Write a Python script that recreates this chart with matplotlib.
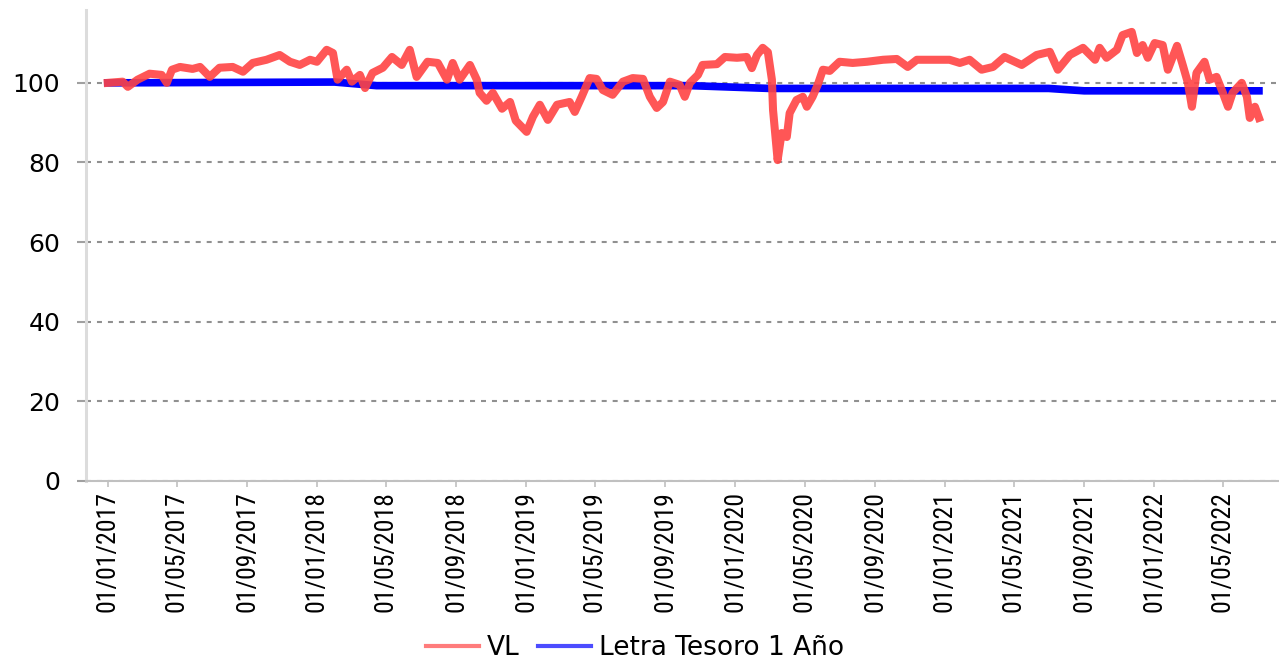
import matplotlib
matplotlib.use("Agg")
import matplotlib.pyplot as plt
import matplotlib.dates as mdates
from matplotlib import font_manager as fm
import pandas as pd

plt.rcParams['lines.scale_dashes'] = False
plt.rcParams['ytick.major.size'] = 6.5
plt.rcParams['ytick.major.pad'] = 12
plt.rcParams['ytick.major.width'] = 1.5
plt.rcParams['ytick.color'] = '#a0a0a0'
plt.rcParams['ytick.labelcolor'] = 'black'
plt.rcParams['xtick.major.size'] = 4.5
plt.rcParams['xtick.major.pad'] = 3
plt.rcParams['xtick.major.width'] = 1.2
plt.rcParams['xtick.color'] = '#c0c0c0'
plt.rcParams['xtick.labelcolor'] = 'black'

# ---- data ----
vl_dates = [
    "2017-01-01", "2017-01-27", "2017-02-05", "2017-02-22", "2017-03-15", "2017-04-05", "2017-04-14",
    "2017-04-23", "2017-05-07", "2017-05-29", "2017-06-11", "2017-06-28", "2017-07-15", "2017-08-07",
    "2017-08-25", "2017-09-11", "2017-10-05", "2017-10-28", "2017-11-15", "2017-12-02", "2017-12-20",
    "2018-01-01", "2018-01-18", "2018-01-29", "2018-02-06", "2018-02-22", "2018-03-03", "2018-03-17",
    "2018-03-26", "2018-04-08", "2018-04-26", "2018-05-12", "2018-05-29", "2018-06-12", "2018-06-24",
    "2018-07-13", "2018-07-31", "2018-08-16", "2018-08-26", "2018-09-07", "2018-09-25", "2018-10-07",
    "2018-10-12", "2018-10-24", "2018-11-04", "2018-11-20", "2018-12-04", "2018-12-14", "2019-01-02",
    "2019-01-13", "2019-01-25", "2019-02-08", "2019-02-24", "2019-03-18", "2019-03-27", "2019-04-08",
    "2019-04-22", "2019-05-04", "2019-05-15", "2019-06-01", "2019-06-19", "2019-07-06", "2019-07-24",
    "2019-08-05", "2019-08-17", "2019-08-28", "2019-09-09", "2019-09-26", "2019-10-05", "2019-10-14",
    "2019-10-28", "2019-11-05", "2019-11-30", "2019-12-14", "2020-01-04", "2020-01-21", "2020-01-30",
    "2020-02-08", "2020-02-18", "2020-02-27", "2020-03-05", "2020-03-07", "2020-03-15", "2020-03-22",
    "2020-03-31", "2020-04-05", "2020-04-17", "2020-04-28", "2020-05-05", "2020-05-15", "2020-05-24",
    "2020-06-02", "2020-06-14", "2020-07-01", "2020-07-24", "2020-08-18", "2020-09-15", "2020-10-09",
    "2020-10-28", "2020-11-13", "2021-01-09", "2021-01-27", "2021-02-13", "2021-03-06", "2021-03-26",
    "2021-04-15", "2021-05-15", "2021-06-10", "2021-07-03", "2021-07-17", "2021-08-07", "2021-08-30",
    "2021-09-20", "2021-09-28", "2021-10-10", "2021-10-28", "2021-11-07", "2021-11-23", "2021-12-02",
    "2021-12-12", "2021-12-21", "2022-01-02", "2022-01-16", "2022-01-25", "2022-02-10", "2022-02-20",
    "2022-03-01", "2022-03-08", "2022-03-16", "2022-03-30", "2022-04-08", "2022-04-20", "2022-05-01",
    "2022-05-10", "2022-05-18", "2022-06-03", "2022-06-12", "2022-06-17", "2022-06-26", "2022-07-03",
]
vl_values = [
    100.0, 100.3, 99.0, 100.8, 102.3, 102.0, 100.0,
    103.3, 104.0, 103.5, 104.0, 101.5, 103.8, 104.0,
    102.8, 105.0, 105.8, 107.0, 105.3, 104.5, 105.8,
    105.3, 108.3, 107.5, 100.8, 103.3, 100.3, 102.0,
    98.7, 102.5, 103.8, 106.5, 104.5, 108.3, 101.5,
    105.3, 105.0, 100.8, 105.0, 100.8, 104.5, 100.8,
    97.5, 95.5, 97.5, 93.5, 95.2, 90.5, 87.7,
    91.5, 94.5, 90.7, 94.5, 95.2, 92.7, 96.5,
    101.2, 101.0, 98.2, 97.0, 100.3, 101.2, 101.0,
    96.5, 93.7, 95.2, 100.3, 99.5, 96.5, 100.0,
    102.0, 104.5, 104.7, 106.5, 106.3, 106.5, 103.7,
    107.0, 108.8, 107.7, 100.8, 93.2, 80.6, 87.4,
    86.4, 92.4, 95.7, 96.5, 94.0, 96.5, 99.5,
    103.3, 103.0, 105.3, 105.0, 105.3, 105.8, 106.0,
    104.0, 105.8, 105.8, 105.0, 105.8, 103.3, 104.0,
    106.5, 104.5, 107.0, 107.8, 103.3, 107.0, 108.8,
    105.8, 108.8, 106.3, 108.3, 112.0, 112.8, 107.5,
    109.5, 106.3, 110.0, 109.5, 103.3, 109.3, 104.5,
    100.0, 94.0, 102.5, 105.3, 100.8, 101.5, 97.5,
    94.0, 97.5, 100.0, 96.5, 91.2, 94.0, 91.2,
]

letra_dates = ["2017-01-01", "2018-02-01", "2018-04-15", "2019-10-15",
               "2020-03-01", "2021-07-01", "2021-09-01", "2022-07-03"]
letra_values = [100.0, 100.2, 99.3, 99.3, 98.6, 98.6, 98.0, 98.0]

tick_dates = ["2017-01-01", "2017-05-01", "2017-09-01", "2018-01-01", "2018-05-01",
              "2018-09-01", "2019-01-01", "2019-05-01", "2019-09-01", "2020-01-01",
              "2020-05-01", "2020-09-01", "2021-01-01", "2021-05-01", "2021-09-01",
              "2022-01-01", "2022-05-01"]
y_ticks = [0, 20, 40, 60, 80, 100]
series_names = ["VL", "Letra Tesoro 1 Año"]

# ---- pick a narrow font for the rotated date labels ----
fonts = fm.fontManager.ttflist
names = {f.name for f in fonts}
if "Liberation Sans Narrow" in names:
    xprop = fm.FontProperties(family="Liberation Sans Narrow", size=21)
elif "Roboto Condensed" in names:
    xprop = fm.FontProperties(family="Roboto Condensed", size=18.5)
elif any(f.name == "DejaVu Sans" and f.stretch == "condensed" for f in fonts):
    xprop = fm.FontProperties(family="DejaVu Sans", stretch="condensed", size=17)
else:
    xprop = fm.FontProperties(family="DejaVu Sans", size=15)

# ---- figure ----
W, H = 1279, 664
fig = plt.figure(figsize=(W / 100, H / 100), dpi=100)
ax = fig.add_axes([86 / W, (H - 481) / H, (W - 86) / W, (481 - 10) / H])

vd = pd.to_datetime(vl_dates)
ld = pd.to_datetime(letra_dates)

ax.plot(ld, letra_values, color="#0000FF", lw=5.5, solid_joinstyle="round",
        label=series_names[1], zorder=3)
ax.plot(vd, vl_values, color="#FF4444", alpha=0.9, lw=5.8, solid_joinstyle="round",
        label=series_names[0], zorder=4)

ax.set_ylim(0, 118.3)
ax.set_xlim(pd.Timestamp("2016-11-24"), pd.Timestamp("2022-08-07"))

ax.set_yticks(y_ticks)
ax.set_xticks(pd.to_datetime(tick_dates))
ax.xaxis.set_major_formatter(mdates.DateFormatter("%d/%m/%Y"))

ax.tick_params(axis="x", labelrotation=90)
for lab in ax.get_xticklabels():
    lab.set_fontproperties(xprop)
for lab in ax.get_yticklabels():
    lab.set_family(["DejaVu Sans"])
    lab.set_fontsize(18)

ax.grid(axis="y", color="#909090", lw=1.5, linestyle=(0, (3.6, 4.3)))
ax.grid(axis="x", visible=False)

for s in ["top", "right"]:
    ax.spines[s].set_visible(False)
ax.spines["left"].set_color("#dcdcdc")
ax.spines["left"].set_linewidth(2.2)
ax.spines["bottom"].set_color("#c0c0c0")
ax.spines["bottom"].set_linewidth(1.5)
ax.set_axisbelow(True)

handles, labels = ax.get_legend_handles_labels()
order = [1, 0]
leg = fig.legend([handles[i] for i in order], [labels[i] for i in order],
                 loc="center", bbox_to_anchor=(0.4965, 1 - 648 / H), ncol=2,
                 frameon=False, fontsize=19, handlelength=2.0, handletextpad=0.3,
                 columnspacing=0.7, borderpad=0)
for lh in leg.get_lines():
    lh.set_linewidth(3.0)
    lh.set_alpha(0.7)

fig.savefig("out.png", dpi=100)
